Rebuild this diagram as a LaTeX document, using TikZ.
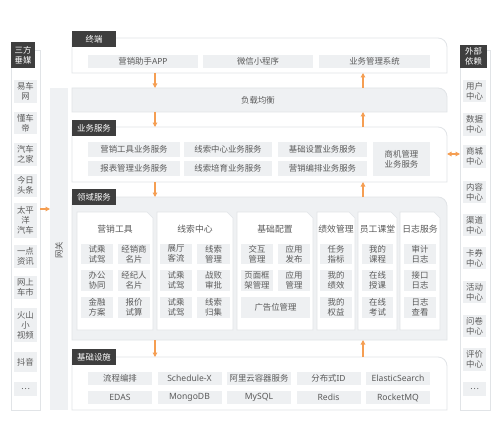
\documentclass[tikz,border=0pt]{standalone}
\usepackage{fontspec}
\newfontfamily\cjk{Noto Sans CJK SC}
\newfontfamily\lat{Noto Sans}
\usetikzlibrary{arrows.meta}
\definecolor{labbg}{HTML}{3E3E3E}
\definecolor{itembg}{HTML}{EEF0F2}
\definecolor{txt}{HTML}{5A5A5A}
\definecolor{bord}{HTML}{E1E4E7}
\definecolor{band}{HTML}{EFF1F3}
\definecolor{org}{HTML}{F59E52}
\newcommand\boxnode[7]{\node[#1, minimum width={#5-#3}, minimum height={#6-#4}] (#2) at ({(#3+#5)/2},{-(#4+#6)/2}) {#7};}
\newcommand\rblock[2]{\draw[draw=bord, line width=0.8pt, fill=#2] (#1.south west) -- (#1.north west) -- ([xshift=-9pt]#1.north east) arc[start angle=90,end angle=0,radius=9pt] -- (#1.south east) -- cycle;}
\newcommand\card[1]{\draw[draw=bord, line width=0.6pt, fill=white] (#1.south west) -- (#1.north west) -- ([xshift=-6pt]#1.north east) -- ([yshift=-6pt]#1.north east) -- (#1.south east) -- cycle;}
\begin{document}
\begin{tikzpicture}[x=1pt,y=1pt,
 every node/.style={font=\cjk\fontsize{8.4}{10}\selectfont, text=txt, inner sep=0pt, outer sep=0pt, align=center},
 item/.style={fill=itembg},
 litem/.style={fill=itembg, font=\lat\fontsize{8.6}{10}\selectfont},
 empty/.style={},
 lab/.style={fill=labbg, text=white, font=\cjk\fontsize{8.4}{10}\selectfont},
 colbox/.style={fill=white, draw=bord, line width=0.8pt},
 gwst/.style={fill=band},
 ctitle/.style={font=\cjk\fontsize{8.8}{10}\selectfont},
 arr/.style={draw=org, line width=1.1pt, -{Triangle[length=4.5pt,width=4.5pt]}},
 arrb/.style={draw=org, line width=1.1pt, {Triangle[length=4.5pt,width=4.5pt]}-{Triangle[length=4.5pt,width=4.5pt]}}
]
\fill[white] (0,0) rectangle (500,-441);
\useasboundingbox (0,0) rectangle (500,-441);

% ---------- left column ----------
\boxnode{colbox}{lcol}{11}{50}{40}{410}{}
\boxnode{lab}{l0}{11}{42}{35}{68}{三方\\垂媒}
\boxnode{item}{l1}{14}{80}{37}{103}{易车\\网}
\boxnode{item}{l2}{14}{112}{37}{134}{懂车\\帝}
\boxnode{item}{l3}{14}{143}{37}{166}{汽车\\之家}
\boxnode{item}{l4}{14}{174}{37}{197}{今日\\头条}
\boxnode{item}{l5}{14}{203}{37}{238}{太平\\洋\\汽车}
\boxnode{item}{l6}{14}{245}{37}{268}{一点\\资讯}
\boxnode{item}{l7}{14}{276}{37}{299}{网上\\车市}
\boxnode{item}{l8}{14}{308}{37}{342}{火山\\小\\视频}
\boxnode{item}{l9}{14}{352}{37}{372}{抖音}
\boxnode{item}{l10}{14}{382}{37}{396}{…}

% ---------- right column ----------
\boxnode{colbox}{rcol}{460}{50}{490}{410}{}
\boxnode{lab}{r0}{460}{45}{487}{68}{外部\\依赖}
\boxnode{item}{r1}{463}{80}{486}{102}{用户\\中心}
\boxnode{item}{r2}{463}{113}{486}{136}{数据\\中心}
\boxnode{item}{r3}{463}{145}{486}{168}{商城\\中心}
\boxnode{item}{r4}{463}{181}{486}{203}{内容\\中心}
\boxnode{item}{r5}{463}{214}{486}{236}{渠道\\中心}
\boxnode{item}{r6}{463}{247}{486}{269}{卡券\\中心}
\boxnode{item}{r7}{463}{281}{486}{303}{活动\\中心}
\boxnode{item}{r8}{463}{315}{486}{337}{问卷\\中心}
\boxnode{item}{r9}{463}{348}{486}{371}{评价\\中心}
\boxnode{item}{r10}{463}{382}{486}{396}{…}

% ---------- gateway ----------
\boxnode{gwst}{gw}{50}{88}{68}{410}{}
\node[rotate=90] (gwt) at (59,-250) {网关};

% ---------- terminal ----------
\boxnode{empty}{term}{72}{38}{447}{73}{}
\rblock{term}{white}
\boxnode{lab}{termlab}{72}{31}{116}{47}{终端}
\boxnode{item}{t1}{88}{55}{198}{68}{营销助手{\lat APP}}
\boxnode{item}{t2}{203}{55}{313}{68}{微信小程序}
\boxnode{item}{t3}{319}{55}{430}{68}{业务管理系统}

% ---------- load balance ----------
\boxnode{empty}{lb}{72}{88}{447}{112}{}
\rblock{lb}{band}
\node (lbt) at (258,-100) {负载均衡};

% ---------- business services ----------
\boxnode{empty}{biz}{72}{127}{447}{182}{}
\rblock{biz}{white}
\boxnode{lab}{bizlab}{72}{120}{116}{136}{业务服务}
\boxnode{item}{b1}{88}{142}{180}{157}{营销工具业务服务}
\boxnode{item}{b2}{184}{142}{272}{157}{线索中心业务服务}
\boxnode{item}{b3}{278}{142}{367}{157}{基础设置业务服务}
\boxnode{item}{b4}{88}{161}{180}{176}{报表管理业务服务}
\boxnode{item}{b5}{184}{161}{272}{176}{线索培育业务服务}
\boxnode{item}{b6}{278}{161}{367}{176}{营销编排业务服务}
\boxnode{item}{b7}{373}{142}{430}{176}{商机管理\\业务服务}

% ---------- domain services ----------
\boxnode{empty}{dom}{72}{197}{447}{340}{}
\rblock{dom}{band}
\boxnode{lab}{domlab}{72}{189}{116}{205}{领域服务}
% cards
\boxnode{empty}{c1}{77}{212}{153}{330}{}
\boxnode{empty}{c2}{157}{212}{233}{330}{}
\boxnode{empty}{c3}{237}{212}{313}{330}{}
\boxnode{empty}{c4}{317}{212}{355}{330}{}
\boxnode{empty}{c5}{358}{212}{397}{330}{}
\boxnode{empty}{c6}{400}{212}{440}{330}{}
\card{c1}\card{c2}\card{c3}\card{c4}\card{c5}\card{c6}
\node[ctitle] (c1t) at (115,-229) {营销工具};
\node[ctitle] (c2t) at (195,-229) {线索中心};
\node[ctitle] (c3t) at (275,-229) {基础配置};
\node[ctitle] (c4t) at (336,-229) {绩效管理};
\node[ctitle] (c5t) at (377.5,-229) {员工课堂};
\node[ctitle] (c6t) at (420,-229) {日志服务};
% card 1
\boxnode{item}{c1a}{81}{244}{113}{264}{试乘\\试驾}
\boxnode{item}{c1b}{118}{244}{150}{264}{经销商\\名片}
\boxnode{item}{c1c}{81}{270}{113}{291}{办公\\协同}
\boxnode{item}{c1d}{118}{270}{150}{291}{经纪人\\名片}
\boxnode{item}{c1e}{81}{297}{113}{318}{金融\\方案}
\boxnode{item}{c1f}{118}{297}{150}{318}{报价\\试算}
% card 2
\boxnode{item}{c2a}{160}{244}{192}{264}{展厅\\客流}
\boxnode{item}{c2b}{197}{244}{230}{264}{线索\\管理}
\boxnode{item}{c2c}{160}{270}{192}{291}{试乘\\试驾}
\boxnode{item}{c2d}{197}{270}{230}{291}{战败\\审批}
\boxnode{item}{c2e}{160}{297}{192}{318}{试乘\\试驾}
\boxnode{item}{c2f}{197}{297}{230}{318}{线索\\归集}
% card 3
\boxnode{item}{c3a}{241}{244}{273}{264}{交互\\管理}
\boxnode{item}{c3b}{278}{244}{310}{264}{应用\\发布}
\boxnode{item}{c3c}{241}{270}{273}{291}{页面框\\架管理}
\boxnode{item}{c3d}{278}{270}{310}{291}{应用\\管理}
\boxnode{item}{c3e}{241}{297}{310}{318}{广告位管理}
% card 4
\boxnode{item}{c4a}{320}{244}{352}{264}{任务\\指标}
\boxnode{item}{c4b}{320}{270}{352}{291}{我的\\绩效}
\boxnode{item}{c4c}{320}{297}{352}{318}{我的\\权益}
% card 5
\boxnode{item}{c5a}{362}{244}{393}{264}{我的\\课程}
\boxnode{item}{c5b}{362}{270}{393}{291}{在线\\授课}
\boxnode{item}{c5c}{362}{297}{393}{318}{在线\\考试}
% card 6
\boxnode{item}{c6a}{404}{244}{436}{264}{审计\\日志}
\boxnode{item}{c6b}{404}{270}{436}{291}{接口\\日志}
\boxnode{item}{c6c}{404}{297}{436}{318}{日志\\查看}

% ---------- infrastructure ----------
\boxnode{empty}{inf}{72}{357}{447}{410}{}
\rblock{inf}{white}
\boxnode{lab}{inflab}{72}{349}{116}{365}{基础设施}
\boxnode{item}{i1}{88}{372}{152}{385}{流程编排}
\boxnode{litem}{i2}{157.5}{372}{221.5}{385}{Schedule-X}
\boxnode{item}{i3}{227}{372}{291}{385}{阿里云容器服务}
\boxnode{item}{i4}{296.5}{372}{360.5}{385}{分布式{\lat ID}}
\boxnode{litem}{i5}{366}{372}{430}{385}{ElasticSearch}
\boxnode{litem}{i6}{88}{391}{152}{404}{EDAS}
\boxnode{litem}{i7}{157.5}{391}{221.5}{404}{MongoDB}
\boxnode{litem}{i8}{227}{391}{291}{404}{MySQL}
\boxnode{litem}{i9}{296.5}{391}{360.5}{404}{Redis}
\boxnode{litem}{i10}{366}{391}{430}{404}{RocketMQ}

% ---------- arrows ----------
\coordinate (dx) at (155,0);
\coordinate (ux) at (363,0);
\draw[arr] (term.south -| dx) -- (lb.north -| dx);
\draw[arr] (lb.south -| dx) -- (biz.north -| dx);
\draw[arr] (biz.south -| dx) -- (dom.north -| dx);
\draw[arr] (dom.south -| dx) -- (inf.north -| dx);
\draw[arr] (lb.north -| ux) -- (term.south -| ux);
\draw[arr] (biz.north -| ux) -- (lb.south -| ux);
\draw[arr] (dom.north -| ux) -- (biz.south -| ux);
\draw[arr] (inf.north -| ux) -- (dom.south -| ux);
\coordinate (hy) at (0,-154);
\draw[arrb] (biz.east |- hy) -- (rcol.west |- hy);
\coordinate (ly) at (0,-209);
\draw[arr] (lcol.east |- ly) -- (gw.west |- ly);
\end{tikzpicture}
\end{document}
